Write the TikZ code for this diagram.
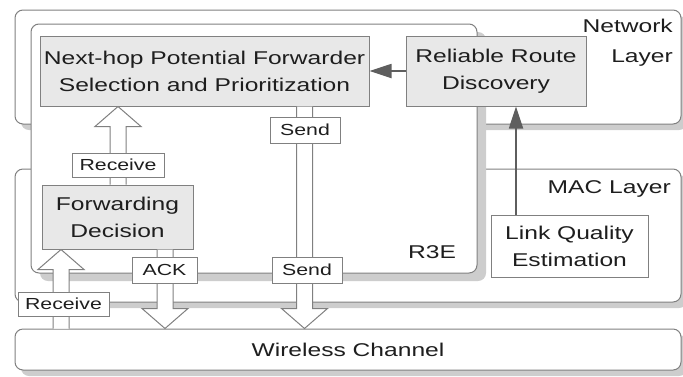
\documentclass[tikz,border=0pt]{standalone}
\usepackage{fontspec}
\setmainfont{Liberation Sans}[FakeStretch=1.33]
\usetikzlibrary{arrows.meta,calc,shadows}
\definecolor{boxfill}{HTML}{E8E8E8}
\definecolor{edge}{HTML}{808080}
\definecolor{shade}{HTML}{CDCDCD}
\definecolor{dark}{HTML}{5E5E5E}
\definecolor{txt}{HTML}{1E1E1E}
\newcommand\hollowarr[2]{%
 \filldraw[hollow] let \p1=(#1), \p2=(#2), \n1={ifthenelse(\y2>\y1,1,-1)} in
 ({\x1-8pt},\y1) -- ({\x1-8pt},{\y2-\n1*20pt}) -- ({\x1-23pt},{\y2-\n1*20pt}) -- (\x1,\y2)
 -- ({\x1+23pt},{\y2-\n1*20pt}) -- ({\x1+8pt},{\y2-\n1*20pt}) -- ({\x1+8pt},\y1);}
\tikzset{
 layer/.style={draw=edge, fill=white, rounded corners=8pt, line width=1pt, inner sep=0pt,
   drop shadow={shadow xshift=6pt, shadow yshift=-6pt, fill=shade, opacity=1}},
 r3e/.style={draw=edge, fill=white, rounded corners=8pt, line width=1pt, inner sep=0pt,
   drop shadow={shadow xshift=9pt, shadow yshift=-8pt, fill=shade, opacity=1}},
 graybox/.style={draw=edge, fill=boxfill, line width=1pt, align=center, text=txt,
   font=\fontsize{18.5}{27}\selectfont, inner sep=0pt},
 whitebox/.style={draw=edge, fill=white, line width=1pt, align=center, text=txt,
   font=\fontsize{18.5}{27}\selectfont, inner sep=0pt},
 lbl/.style={draw=edge, fill=white, line width=1pt, text=txt,
   font=\fontsize{16}{18}\selectfont, inner sep=0pt},
 plain/.style={text=txt, font=\fontsize{18.5}{30}\selectfont, inner sep=0pt},
 hollow/.style={draw=edge, fill=white, line width=1pt, line join=miter},
 darrow/.style={draw=dark, line width=1.8pt, -{Triangle[length=22pt,width=14pt]}},
}
\begin{document}
\begin{tikzpicture}[x=1pt,y=-1pt]
\useasboundingbox (0,0) rectangle (683,376);
% layers
\node[layer, minimum width=666pt, minimum height=114pt] (net) at (348,67) {};
\node[layer, minimum width=666pt, minimum height=133pt] (mac) at (348,235.5) {};
\node[layer, minimum width=666pt, minimum height=41pt, align=center, text=txt,
  font=\fontsize{18.5}{22}\selectfont] (wc) at (348,349.5) {Wireless Channel};
\node[r3e, minimum width=446pt, minimum height=249pt] (r3e) at (254,148.5) {};
% layer labels
\node[plain, anchor=north east, align=right] (netl) at (673,19) {Network\\Layer};
\node[plain, anchor=east] (macl) at (671,189) {MAC Layer};
\node[plain] (r3el) at (432,252) {R3E};
% boxes
\node[graybox, minimum width=329pt, minimum height=70pt] (nh) at (204.5,71)
  {Next-hop Potential Forwarder\\Selection and Prioritization};
\node[graybox, minimum width=180pt, minimum height=70pt] (rrd) at (496,71)
  {Reliable Route\\Discovery};
\node[graybox, minimum width=151pt, minimum height=64pt] (fd) at (117.5,217)
  {Forwarding\\Decision};
\node[whitebox, minimum width=157pt, minimum height=62pt] (lqe) at (569.5,246)
  {Link Quality\\Estimation};
% hollow arrows
\coordinate (xa) at (118,0);
\coordinate (xb) at (304.5,0);
\coordinate (xc) at (165,0);
\coordinate (xd) at (61,0);
\hollowarr{fd.north -| xa}{nh.south -| xa}
\hollowarr{nh.south -| xb}{wc.north -| xb}
\hollowarr{fd.south -| xc}{wc.north -| xc}
\hollowarr{wc.north -| xd}{fd.south -| xd}
% labels on arrows
\node[lbl, minimum width=92pt, minimum height=24pt] (rcv1) at (118,165) {Receive};
\node[lbl, minimum width=70pt, minimum height=26pt] (snd1) at (305,130) {Send};
\node[lbl, minimum width=91pt, minimum height=24pt] (rcv2) at (63.5,304) {Receive};
\node[lbl, minimum width=65pt, minimum height=26pt] (ack) at (164.5,270) {ACK};
\node[lbl, minimum width=70pt, minimum height=26pt] (snd2) at (307,270) {Send};
% dark arrows
\coordinate (xl) at (516,0);
\draw[darrow] (rrd.west) -- (nh.east);
\draw[darrow] (lqe.north -| xl) -- (rrd.south -| xl);
\end{tikzpicture}
\end{document}
